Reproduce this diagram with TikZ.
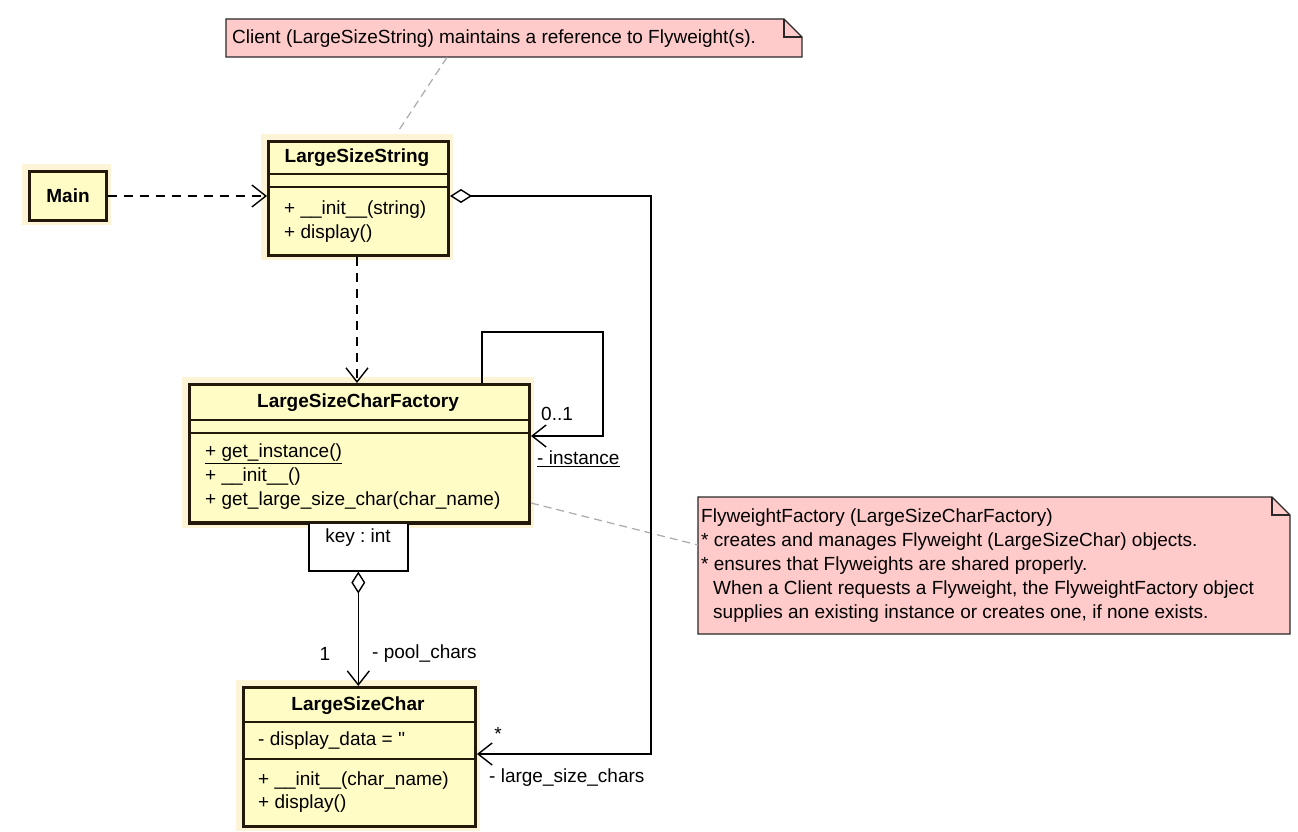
\documentclass[tikz,border=0pt]{standalone}
\usepackage{fontspec}
\newfontfamily\uml{Liberation Sans}
\usetikzlibrary{arrows.meta,calc}
\frenchspacing
\definecolor{clsfill}{RGB}{255,252,198}
\definecolor{clsglow}{RGB}{253,243,214}
\definecolor{clsline}{RGB}{35,25,10}
\definecolor{notefill}{RGB}{255,202,202}
\definecolor{noteline}{RGB}{40,40,40}
\definecolor{notelink}{RGB}{170,170,170}
\tikzset{
  cls/.style={draw=clsline, line width=3pt, fill=clsfill, inner sep=0pt, anchor=north west},
  glow/.style={fill=clsglow, draw=none},
  sep/.style={draw=clsline, line width=1.3pt},
  txt/.style={inner sep=0pt, font=\uml\fontsize{19}{23}\selectfont, text=black},
  ttl/.style={txt, font=\uml\bfseries\fontsize{19}{23}\selectfont},
  lft/.style={txt, anchor=west},
  conn/.style={draw=black, line width=1.4pt},
  dep/.style={conn, dash pattern=on 9pt off 7pt, -{Straight Barb[length=14pt,width=22pt,line width=1.4pt]}},
  openarr/.style={-{Straight Barb[length=14pt,width=22pt,line width=1.4pt]}},
  notelinkst/.style={draw=notelink, line width=1.2pt, dash pattern=on 8pt off 5pt},
  qual/.style={draw=black, line width=1.6pt, fill=white, inner sep=0pt, anchor=north west},
}
\begin{document}
\begin{tikzpicture}[x=1pt,y=-1pt]
\useasboundingbox (0,0) rectangle (1298,832);
\fill[white] (0,0) rectangle (1298,832);

% ---------- notes ----------
\node[inner sep=0pt, minimum width=576pt, minimum height=38pt, anchor=north west] (note1) at (226,19) {};
\draw[fill=notefill, draw=noteline, line width=1.1pt]
  (226,19) -- (784,19) -- (802,37) -- (802,57) -- (226,57) -- cycle;
\draw[draw=noteline, line width=1.1pt] (784,19) -- (784,37) -- (802,37);
\node[lft] (note1t) at (232,39) {Client (LargeSizeString) maintains a reference to Flyweight(s).};

\node[inner sep=0pt, minimum width=592pt, minimum height=137pt, anchor=north west] (note2) at (698,497) {};
\draw[fill=notefill, draw=noteline, line width=1.1pt]
  (698,497) -- (1272,497) -- (1290,515) -- (1290,634) -- (698,634) -- cycle;
\draw[draw=noteline, line width=1.1pt] (1272,497) -- (1272,515) -- (1290,515);
\node[lft] (n2a) at (701,518) {FlyweightFactory (LargeSizeCharFactory)};
\node[lft] (n2b) at (701,542) {* creates and manages Flyweight (LargeSizeChar) objects.};
\node[lft] (n2c) at (701,566) {* ensures that Flyweights are shared properly.};
\node[lft] (n2d) at (713,590) {When a Client requests a Flyweight, the FlyweightFactory object};
\node[lft] (n2e) at (713,614) {supplies an existing instance or creates one, if none exists.};

% ---------- Main ----------
\fill[glow] (22,164) rectangle (111,225);
\node[cls, minimum width=77pt, minimum height=49pt] (main) at (28,170) {};
\node[ttl] (maint) at (main.center) {Main};

% ---------- LargeSizeString ----------
\fill[glow] (261,134) rectangle (453,260);
\node[cls, minimum width=180pt, minimum height=114pt] (lss) at (267,140) {};
\draw[sep] (267,174) -- (447,174);
\draw[sep] (267,187) -- (447,187);
\node[ttl] (lsst) at (357,158) {LargeSizeString};
\node[lft] (lssm1) at (284,210) {+ \_\_init\_\_(string)};
\node[lft] (lssm2) at (284,234) {+ display()};

% ---------- LargeSizeCharFactory ----------
\fill[glow] (182,377) rectangle (534,528);
\node[cls, minimum width=340pt, minimum height=139pt] (fac) at (188,383) {};
\draw[sep] (188,420) -- (528,420);
\draw[sep] (188,433) -- (528,433);
\node[ttl] (fact) at (358,403) {LargeSizeCharFactory};
\node[lft] (facm1) at (205,454) {\underline{+ get\_instance()}};
\node[lft] (facm2) at (205,477) {+ \_\_init\_\_()};
\node[lft] (facm3) at (205,501) {+ get\_large\_size\_char(char\_name)};

% qualifier
\node[qual, minimum width=99pt, minimum height=48pt] (qual) at (308,522) {};
\node[txt] (qualt) at (358,538) {key : int};
\draw[draw=clsline, line width=3pt] (188,522) -- (528,522);

% ---------- LargeSizeChar ----------
\fill[glow] (236,680) rectangle (480,831);
\node[cls, minimum width=232pt, minimum height=139pt] (lsc) at (242,686) {};
\draw[sep] (242,722) -- (474,722);
\draw[sep] (242,759) -- (474,759);
\node[ttl] (lsct) at (358,706) {LargeSizeChar};
\node[lft] (lsca1) at (258,741) {- display\_data = ''};
\node[lft] (lscm1) at (258,781) {+ \_\_init\_\_(char\_name)};
\node[lft] (lscm2) at (258,804) {+ display()};

% ---------- connectors ----------
% Main -> LargeSizeString (dependency)
\draw[dep] (main.east |- 0,196) -- (lss.west |- 0,196);
% LargeSizeString -> Factory (dependency)
\draw[dep] (lss.south -| 357,0) -- (fac.north -| 357,0);
% note links
\draw[notelinkst] (note1.south -| 447,0) -- ($(lss.north -| 399,0)+(0,-10)$);
\draw[notelinkst] (fac.east |- 0,503) -- (note2.west |- 0,545);
% self association
\coordinate (sl1) at (482,332);
\coordinate (sl2) at (603,332);
\coordinate (sl3) at (603,436);
\draw[conn, openarr] (fac.north -| sl1) -- (sl1) -- (sl2) -- (sl3) -- (fac.east |- sl3);
\node[lft] (l01) at (541,414) {0..1};
\node[lft] (linst) at (537,459) {\underline{- instance}};
% aggregation LargeSizeString -> LargeSizeChar
\coordinate (ag1) at (651,196);
\coordinate (ag2) at (651,754);
\draw[conn, {Diamond[open,length=22pt,width=14pt,line width=1.4pt]}-{Straight Barb[length=14pt,width=22pt,line width=1.4pt]}]
  (lss.east |- ag1) -- (ag1) -- (ag2) -- (lsc.east |- ag2);
\node[txt] (lstar) at (498,734) {*};
\node[lft] (llsc) at (489,778) {- large\_size\_chars};
% qualified aggregation Factory -> LargeSizeChar
\draw[conn, {Diamond[open,length=22pt,width=14pt,line width=1.4pt]}-{Straight Barb[length=14pt,width=22pt,line width=1.4pt]}]
  (qual.south) -- (lsc.north -| qual.south);
\node[txt] (l1) at (325,654) {1};
\node[lft] (lpool) at (372,654) {- pool\_chars};
\end{tikzpicture}
\end{document}
